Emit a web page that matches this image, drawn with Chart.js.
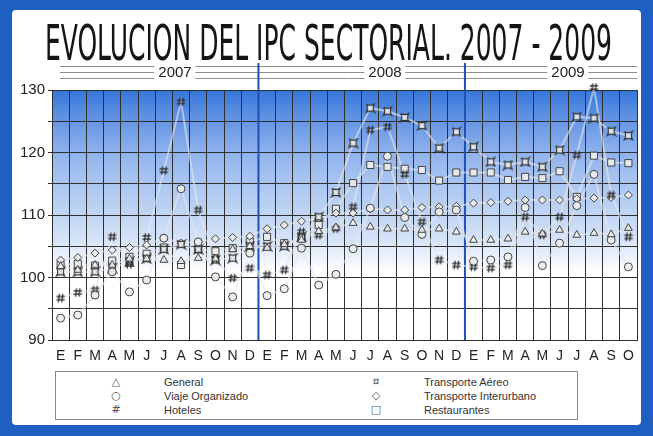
<!DOCTYPE html>
<html>
<head>
<meta charset="utf-8">
<script src="https://cdn.jsdelivr.net/npm/chart.js@4.4.1/dist/chart.umd.min.js"></script>
<style>
  body { margin:0; width:653px; height:436px; background:#1f5fc2; overflow:hidden; position:relative; font-family:"Liberation Sans", Arial, sans-serif; }
  #panel { position:absolute; left:12px; top:10px; width:629px; height:415px; background:#fff; border-radius:4px; }
  #grafico { position:absolute; left:0; top:0; }
  #titulo { position:absolute; left:45px; top:19px; font-family:"Liberation Sans Narrow","DejaVu Sans Condensed","Arial Narrow",sans-serif; font-size:49px; line-height:49px; color:#151515; white-space:nowrap; transform-origin:0 0; }
  .anio { position:absolute; top:64px; font-size:15px; line-height:16px; color:#222; background:#fff; padding:0 4px; transform:translateX(-50%); }
  #leyenda { position:absolute; left:55px; top:371px; width:521px; height:47px; border:1px solid #8a8a8a; background:#fff; font-size:11px; color:#333; }
  .item { position:absolute; height:14px; line-height:14px; white-space:nowrap; }
  .sim { position:absolute; width:14px; text-align:center; color:#555; font-family:"DejaVu Sans", sans-serif; }
</style>
</head>
<body>
<div id="panel"></div>
<canvas id="grafico" width="653" height="436"></canvas>
<div id="titulo">EVOLUCION DEL IPC SECTORIAL. 2007 - 2009</div>
<div id="anios"></div>
<div id="leyenda"></div>
<script>
// Meses (E = enero ... D = diciembre), de enero 2007 a octubre 2009
const meses = ["E","F","M","A","M","J","J","A","S","O","N","D",
               "E","F","M","A","M","J","J","A","S","O","N","D",
               "E","F","M","A","M","J","J","A","S","O"];
const anios = ["2007", "2008", "2009"];

// Valores (indice, base aprox. 100)
const general      = [101.8,101.2,102,102,103,103,102.8,102.6,103.1,103,104.5,105,
                      104.7,105.3,106,107.4,108,108.7,108.1,107.8,107.8,107.6,107.8,107.3,
                      106,106,106.2,107.3,107,107.6,106.8,107.1,106.9,107.9];
const viaje        = [93.5,94,97.2,100.9,97.7,99.6,106.3,114.2,105.7,100.1,96.9,103.9,
                      97.1,98.2,104.7,98.8,100.5,104.6,111.1,119.4,109.6,106.9,110.5,110.8,
                      102.6,102.8,103.3,111.2,101.9,105.5,111.5,116.5,106,101.7];
const hoteles      = [96.7,97.6,98,106.5,102.1,106.4,117.1,128.1,110.8,103,99.9,101.5,
                      100.4,101.2,107.3,106.8,107.8,111.3,123.6,124.1,116.5,108.9,102.8,102,
                      101.7,101.5,102,109.7,106.8,109.7,119.6,130.4,113.2,106.5];
const aereo        = [100.9,100.9,100.9,101.5,102.5,103,104.5,105.3,104.5,102.8,103.1,105,
                      105,105,106.5,109.7,113.6,121.5,127.1,126.6,125.6,124.3,120.7,123.3,
                      120.9,118.5,118,118.5,117.7,120.4,125.7,125.5,123.4,122.7];
const interurbano  = [102.8,103.2,103.9,104.4,104.8,105.2,106.3,105.5,105.7,106.2,106.4,106.6,
                      107.8,108.4,109,109.5,110.3,110.3,111,110.8,110.8,111.2,111.3,111.4,
                      111.9,112,112.2,112.4,112.4,112.4,112.6,112.7,112.8,113.2];
const restaurantes = [102,102.2,101.9,102.7,103.3,103.8,104.8,102,104.5,104.2,104.7,105.7,
                      106.5,105.5,106.3,108.4,111,115.1,118,117.7,117.4,117.2,115.5,116.8,
                      116.8,116.8,115.6,116.1,115.9,117,112.9,119.5,118.4,118.3];

// Simbolos propios (almohadilla y el de transporte aereo)
function simbolo(dibujar) {
  const c = document.createElement("canvas");
  c.width = 11; c.height = 11;
  const g = c.getContext("2d");
  g.translate(5.5, 5.5);
  dibujar(g);
  return c;
}
const almohadilla = simbolo(g => {
  g.strokeStyle = "#2e2e2e"; g.lineWidth = 1.3;
  g.beginPath();
  g.moveTo(-1.2, -4.2); g.lineTo(-2.2, 4.2);
  g.moveTo(2.2, -4.2); g.lineTo(1.2, 4.2);
  g.moveTo(-4.2, -1.6); g.lineTo(4.2, -1.6);
  g.moveTo(-4.2, 1.6); g.lineTo(4.2, 1.6);
  g.stroke();
});
const estrella = simbolo(g => {
  g.fillStyle = "rgba(235,235,235,0.9)"; g.strokeStyle = "#333"; g.lineWidth = 1.2;
  g.beginPath();
  g.moveTo(-4, -4);
  g.quadraticCurveTo(0, -1.6, 4, -4);
  g.quadraticCurveTo(1.6, 0, 4, 4);
  g.quadraticCurveTo(0, 1.6, -4, 4);
  g.quadraticCurveTo(-1.6, 0, -4, -4);
  g.fill(); g.stroke();
});

const series = [
  { nombre: "General", datos: general, estilo: "triangle", r: 4.5 },
  { nombre: "Viaje Organizado", datos: viaje, estilo: "circle", r: 4 },
  { nombre: "Hoteles", datos: hoteles, estilo: almohadilla, r: 5 },
  { nombre: "Transporte Aéreo", datos: aereo, estilo: estrella, r: 5 },
  { nombre: "Transporte Interurbano", datos: interurbano, estilo: "rectRot", r: 4 },
  { nombre: "Restaurantes", datos: restaurantes, estilo: "rect", r: 5 }
];

const datasets = [];
series.forEach(s => {
  // linea clara que une los puntos (debajo)
  datasets.push({
    label: s.nombre + " linea", data: s.datos, order: 2,
    borderColor: "rgba(228,232,238,0.6)", borderWidth: 2,
    pointRadius: 0, tension: 0, fill: false
  });
  // marcadores
  datasets.push({
    label: s.nombre, data: s.datos, order: 1, showLine: false, clip: false,
    pointStyle: s.estilo, pointRadius: s.r, pointHoverRadius: s.r,
    backgroundColor: "rgba(236,236,236,0.9)", borderColor: "#444", borderWidth: 1
  });
});

// Fondo degradado azul y lineas de separacion de anios
const fondo = {
  id: "fondo",
  beforeDraw(chart) {
    const { ctx, chartArea: a, scales: { y } } = chart;
    const yp = v => (y.getPixelForValue(v) - a.top) / (a.bottom - a.top);
    const grad = ctx.createLinearGradient(0, a.top, 0, a.bottom);
    grad.addColorStop(0, "#3676da");
    grad.addColorStop(yp(125), "#6696e4");
    grad.addColorStop(yp(120), "#8fb2ed");
    grad.addColorStop(yp(115), "#abc6f1");
    grad.addColorStop(yp(110), "#c1d5f4");
    grad.addColorStop(yp(106), "#d6e3f7");
    grad.addColorStop(yp(103), "#eef3fb");
    grad.addColorStop(yp(101), "#ffffff");
    grad.addColorStop(1, "#ffffff");
    ctx.save();
    ctx.fillStyle = grad;
    ctx.fillRect(a.left, a.top, a.right - a.left, a.bottom - a.top);
    // lineas triples de la cabecera de anios
    ctx.strokeStyle = "#8f8f8f"; ctx.lineWidth = 1;
    [66.5, 72.5, 78.5].forEach(py => {
      ctx.beginPath(); ctx.moveTo(60, py); ctx.lineTo(a.right, py); ctx.stroke();
    });
    ctx.restore();
  },
  beforeDatasetsDraw(chart) {
    const { ctx, chartArea: a, scales: { x } } = chart;
    ctx.save();
    ctx.strokeStyle = "#1f4fb5"; ctx.lineWidth = 2;
    [12, 24].forEach(i => {
      const px = (x.getPixelForValue(i - 1) + x.getPixelForValue(i)) / 2;
      ctx.beginPath(); ctx.moveTo(px, 63); ctx.lineTo(px, a.bottom); ctx.stroke();
    });
    ctx.restore();
  }
};

new Chart(document.getElementById("grafico"), {
  type: "line",
  data: { labels: meses, datasets: datasets },
  options: {
    responsive: false,
    animation: false,
    layout: { padding: { top: 90, right: 16, bottom: 0, left: 0 } },
    plugins: { legend: { display: false }, tooltip: { enabled: false } },
    scales: {
      x: {
        offset: true,
        grid: { offset: true, color: "#2f2f2f", lineWidth: 1, drawTicks: false },
        border: { color: "#2f2f2f" },
        ticks: { color: "#222", font: { size: 14, family: "Liberation Sans" }, padding: 8, maxRotation: 0, autoSkip: false },
        afterFit: s => { s.height = 96; }
      },
      y: {
        min: 90, max: 130,
        grid: { color: "#2f2f2f", lineWidth: 1, tickLength: 4 },
        border: { color: "#2f2f2f" },
        ticks: { stepSize: 5, color: "#222", font: { size: 15, family: "Liberation Sans" }, padding: 3,
                 callback: v => (v % 10 === 0 ? v : "") },
        afterFit: s => { s.width = 52; }
      }
    }
  },
  plugins: [fondo]
});

// Etiquetas de anio sobre la cabecera
const posAnios = [175, 385, 568];
anios.forEach((a, i) => {
  const s = document.createElement("span");
  s.className = "anio"; s.textContent = a; s.style.left = posAnios[i] + "px";
  document.getElementById("anios").appendChild(s);
});

// Titulo estrechado al ancho del original
const t = document.getElementById("titulo");
t.style.transform = "scaleX(" + (567 / t.getBoundingClientRect().width) + ")";

// Leyenda en dos columnas
const simbolos = ["△", "○", "#", "¤", "◇", "□"];
const ley = document.getElementById("leyenda");
series.forEach((s, i) => {
  const col = Math.floor(i / 3), fila = i % 3;
  const d = document.createElement("div");
  d.className = "item";
  d.style.top = (3 + fila * 14) + "px";
  d.style.left = (col === 0 ? 53 : 313) + "px";
  d.innerHTML = '<span class="sim">' + simbolos[i] + '</span><span style="position:absolute;left:55px">' + s.nombre + "</span>";
  ley.appendChild(d);
});
</script>
</body>
</html>
